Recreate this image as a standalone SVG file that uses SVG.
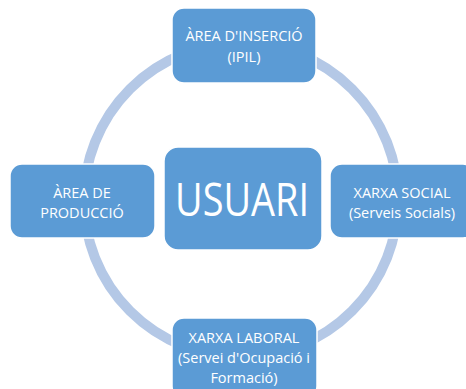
<svg xmlns="http://www.w3.org/2000/svg" width="466" height="389" viewBox="0 0 466 389">
<style>
.box{fill:#5b9bd5;stroke:#ffffff;stroke-width:1.5}
.lbl{fill:#ffffff;font-family:"Open Sans","Liberation Sans",sans-serif;font-size:14.5px;text-anchor:middle}
.big{fill:#ffffff;font-family:"Open Sans","Liberation Sans",sans-serif;font-size:46px;text-anchor:middle}
</style>
<rect width="466" height="389" fill="#ffffff"/>
<g id="connectors">
<circle cx="241" cy="200" r="157" fill="none" stroke="#b4c8e6" stroke-width="10"/>
</g>
<g id="top">
<rect class="box" x="172" y="8" width="144" height="75" rx="12"/>
<text class="lbl" x="244" y="41">ÀREA D'INSERCIÓ</text>
<text class="lbl" x="244" y="62">(IPIL)</text>
</g>
<g id="left">
<rect class="box" x="10" y="164" width="145" height="74" rx="12"/>
<text class="lbl" x="82" y="198">ÀREA DE</text>
<text class="lbl" x="82" y="218">PRODUCCIÓ</text>
</g>
<g id="right">
<rect class="box" x="330" y="164" width="145" height="74" rx="12"/>
<text class="lbl" x="402" y="198">XARXA SOCIAL</text>
<text class="lbl" x="402" y="218">(Serveis Socials)</text>
</g>
<g id="bottom">
<rect class="box" x="172" y="318" width="145" height="80" rx="12"/>
<text class="lbl" x="244" y="343">XARXA LABORAL</text>
<text class="lbl" x="244" y="363">(Servei d'Ocupació i</text>
<text class="lbl" x="244" y="383">Formació)</text>
</g>
<g id="center">
<rect class="box" x="164" y="147" width="158" height="103" rx="14"/>
<text class="big" x="242" y="216" textLength="134" lengthAdjust="spacingAndGlyphs">USUARI</text>
</g>
</svg>
